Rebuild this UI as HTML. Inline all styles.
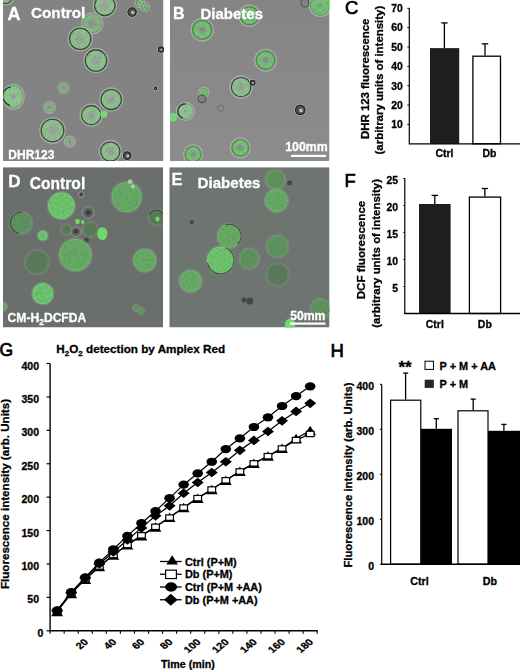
<!DOCTYPE html><html><head><meta charset="utf-8"><style>html,body{margin:0;padding:0;background:#fff;}body{width:520px;height:670px;position:relative;overflow:hidden;}</style></head><body><svg width="520" height="670" viewBox="0 0 520 670" style="position:absolute;left:0;top:0;filter:blur(0.35px)">
<defs>
<radialGradient id="gA"><stop offset="0" stop-color="#9c9ea0"/><stop offset="0.3" stop-color="#98aa98"/><stop offset="0.6" stop-color="#92c092"/><stop offset="0.88" stop-color="#8ac28a"/><stop offset="1" stop-color="#74a874"/></radialGradient>
<radialGradient id="gG"><stop offset="0" stop-color="#8a8096"/><stop offset="0.22" stop-color="#8a968c"/><stop offset="0.42" stop-color="#78ba78"/><stop offset="0.75" stop-color="#7cc27c"/><stop offset="0.9" stop-color="#4c944c"/><stop offset="1" stop-color="#5a8e5a"/></radialGradient>
<radialGradient id="gGG"><stop offset="0" stop-color="#7a9a7c"/><stop offset="0.4" stop-color="#7cc07c"/><stop offset="0.85" stop-color="#6cc06c"/><stop offset="1" stop-color="#5aa05a"/></radialGradient>
<radialGradient id="gP"><stop offset="0" stop-color="#8e8e92"/><stop offset="0.3" stop-color="#909a90"/><stop offset="0.55" stop-color="#88b088"/><stop offset="0.85" stop-color="#86b686"/><stop offset="1" stop-color="#6a9a6a"/></radialGradient>
<radialGradient id="gAb"><stop offset="0" stop-color="#8c948c"/><stop offset="0.3" stop-color="#98c098"/><stop offset="0.8" stop-color="#8cc88c"/><stop offset="1" stop-color="#6aaa6a"/></radialGradient>
<radialGradient id="gD1"><stop offset="0" stop-color="#6cbc6c"/><stop offset="0.85" stop-color="#6cbb6c"/><stop offset="1" stop-color="#7cc07c"/></radialGradient>
<radialGradient id="gD2"><stop offset="0" stop-color="#66a466"/><stop offset="0.85" stop-color="#69a669"/><stop offset="1" stop-color="#78ae78"/></radialGradient>
<radialGradient id="gD3"><stop offset="0" stop-color="#5c765c"/><stop offset="0.85" stop-color="#628262"/><stop offset="1" stop-color="#7c967c"/></radialGradient>
<filter id="tex" x="0" y="0" width="1" height="1" primitiveUnits="userSpaceOnUse"><feTurbulence type="fractalNoise" baseFrequency="0.42" numOctaves="2" seed="7" result="n"/><feColorMatrix in="n" type="matrix" values="0 0 0 0 0  0 0 0 0 0  0 0 0 0 0  0 0 0 -2.4 1.35" result="m"/><feComposite in="SourceGraphic" in2="m" operator="in"/></filter>
<linearGradient id="bgB" x1="0" y1="0" x2="0" y2="1"><stop offset="0" stop-color="#858585"/><stop offset="1" stop-color="#8c8c8c"/></linearGradient>
<filter id="bl" x="-5%" y="-5%" width="110%" height="110%"><feGaussianBlur stdDeviation="0.45"/></filter>
<clipPath id="cA"><rect x="3" y="0" width="160.5" height="161"/></clipPath>
<clipPath id="cB"><rect x="170" y="0" width="159.5" height="161"/></clipPath>
<clipPath id="cD"><rect x="3" y="167.2" width="160" height="160.3"/></clipPath>
<clipPath id="cE"><rect x="169.3" y="167.2" width="160.2" height="160.3"/></clipPath>
</defs>
<rect width="520" height="670" fill="#fff"/>
<g clip-path="url(#cA)">
<rect x="3" y="0" width="160.5" height="161" fill="#838383"/>
<g filter="url(#bl)">
<circle cx="104.80" cy="5.50" r="11.50" fill="none" stroke="#b6b8b6" stroke-width="1.3" opacity="0.7"/><circle cx="104.80" cy="5.50" r="10.60" fill="url(#gA)"/><circle cx="104.80" cy="5.50" r="9.40" fill="#4a7a4a" filter="url(#tex)" opacity="0.3"/><circle cx="104.80" cy="5.50" r="10.10" fill="none" stroke="#344034" stroke-width="1.05"/>
<circle cx="92.30" cy="23.30" r="10.50" fill="none" stroke="#b6b8b6" stroke-width="1.3" opacity="0.7"/><circle cx="92.30" cy="23.30" r="9.60" fill="url(#gP)"/><circle cx="92.30" cy="23.30" r="8.40" fill="#4a7a4a" filter="url(#tex)" opacity="0.3"/>
<circle cx="80.20" cy="38.80" r="12.00" fill="none" stroke="#b6b8b6" stroke-width="1.3" opacity="0.7"/><circle cx="80.20" cy="38.80" r="11.10" fill="url(#gA)"/><circle cx="80.20" cy="38.80" r="9.90" fill="#4a7a4a" filter="url(#tex)" opacity="0.3"/><circle cx="80.20" cy="38.80" r="10.60" fill="none" stroke="#344034" stroke-width="1.05"/>
<circle cx="96.00" cy="60.60" r="12.10" fill="none" stroke="#b6b8b6" stroke-width="1.3" opacity="0.7"/><circle cx="96.00" cy="60.60" r="11.20" fill="url(#gA)"/><circle cx="96.00" cy="60.60" r="10.00" fill="#4a7a4a" filter="url(#tex)" opacity="0.3"/><circle cx="96.00" cy="60.60" r="10.70" fill="none" stroke="#344034" stroke-width="1.05"/>
<circle cx="132.10" cy="12.10" r="5.00" fill="none" stroke="#c8c8c8" stroke-width="1" opacity="0.8"/><circle cx="132.10" cy="12.10" r="4.20" fill="#4a524a" stroke="#262626" stroke-width="1.2"/><circle cx="132.73" cy="12.52" r="1.68" fill="#a8c8a8"/>
<circle cx="139.80" cy="3.00" r="4.70" fill="none" stroke="#b6b8b6" stroke-width="1.3" opacity="0.7"/><circle cx="139.80" cy="3.00" r="3.80" fill="url(#gG)"/><circle cx="139.80" cy="3.00" r="2.60" fill="#4a7a4a" filter="url(#tex)" opacity="0.3"/>
<circle cx="144.80" cy="6.50" r="4.70" fill="none" stroke="#b6b8b6" stroke-width="1.3" opacity="0.7"/><circle cx="144.80" cy="6.50" r="3.80" fill="url(#gG)"/><circle cx="144.80" cy="6.50" r="2.60" fill="#4a7a4a" filter="url(#tex)" opacity="0.3"/>
<circle cx="161.00" cy="49.50" r="3.40" fill="none" stroke="#c8c8c8" stroke-width="1" opacity="0.8"/><circle cx="161.00" cy="49.50" r="2.60" fill="#4a524a" stroke="#262626" stroke-width="1.2"/><circle cx="161.39" cy="49.76" r="1.04" fill="#a8c8a8"/>
<ellipse cx="13.20" cy="96.70" rx="10.90" ry="12.40" fill="none" stroke="#b6b8b6" stroke-width="1.3" opacity="0.7"/><ellipse cx="13.20" cy="96.70" rx="10.00" ry="11.50" fill="url(#gAb)"/><ellipse cx="13.20" cy="96.70" rx="8.80" ry="10.30" fill="#4a7a4a" filter="url(#tex)" opacity="0.3"/><ellipse cx="13.20" cy="96.70" rx="9.40" ry="10.90" fill="none" stroke="#263a26" stroke-width="1.3" stroke-dasharray="26.0 40.0" transform="rotate(110 13.2 96.7)"/>
<circle cx="63.60" cy="88.10" r="5.20" fill="none" stroke="#b6b8b6" stroke-width="1.3" opacity="0.7"/><circle cx="63.60" cy="88.10" r="4.30" fill="url(#gP)"/><circle cx="63.60" cy="88.10" r="3.10" fill="#4a7a4a" filter="url(#tex)" opacity="0.3"/>
<circle cx="49.50" cy="107.30" r="5.70" fill="none" stroke="#b6b8b6" stroke-width="1.3" opacity="0.7"/><circle cx="49.50" cy="107.30" r="4.80" fill="url(#gP)"/><circle cx="49.50" cy="107.30" r="3.60" fill="#4a7a4a" filter="url(#tex)" opacity="0.3"/>
<circle cx="111.20" cy="99.50" r="11.50" fill="none" stroke="#b6b8b6" stroke-width="1.3" opacity="0.7"/><circle cx="111.20" cy="99.50" r="10.60" fill="url(#gA)"/><circle cx="111.20" cy="99.50" r="9.40" fill="#4a7a4a" filter="url(#tex)" opacity="0.3"/><circle cx="111.20" cy="99.50" r="10.10" fill="none" stroke="#344034" stroke-width="1.05"/>
<circle cx="91.20" cy="115.20" r="11.00" fill="none" stroke="#b6b8b6" stroke-width="1.3" opacity="0.7"/><circle cx="91.20" cy="115.20" r="10.10" fill="url(#gA)"/><circle cx="91.20" cy="115.20" r="8.90" fill="#4a7a4a" filter="url(#tex)" opacity="0.3"/><circle cx="91.20" cy="115.20" r="9.60" fill="none" stroke="#344034" stroke-width="1.05"/>
<circle cx="103.80" cy="114.20" r="3.60" fill="#7ed07a"/>
<circle cx="52.50" cy="130.50" r="12.70" fill="none" stroke="#b6b8b6" stroke-width="1.3" opacity="0.7"/><circle cx="52.50" cy="130.50" r="11.80" fill="url(#gA)"/><circle cx="52.50" cy="130.50" r="10.60" fill="#4a7a4a" filter="url(#tex)" opacity="0.3"/><circle cx="52.50" cy="130.50" r="11.30" fill="none" stroke="#344034" stroke-width="1.05"/>
<circle cx="69.70" cy="141.60" r="5.50" fill="none" stroke="#b6b8b6" stroke-width="1.3" opacity="0.7"/><circle cx="69.70" cy="141.60" r="4.60" fill="url(#gP)"/><circle cx="69.70" cy="141.60" r="3.40" fill="#4a7a4a" filter="url(#tex)" opacity="0.3"/>
<circle cx="110.30" cy="151.50" r="11.00" fill="none" stroke="#b6b8b6" stroke-width="1.3" opacity="0.7"/><circle cx="110.30" cy="151.50" r="10.10" fill="url(#gA)"/><circle cx="110.30" cy="151.50" r="8.90" fill="#4a7a4a" filter="url(#tex)" opacity="0.3"/><circle cx="110.30" cy="151.50" r="9.60" fill="none" stroke="#344034" stroke-width="1.05"/>
<circle cx="127.20" cy="155.60" r="4.60" fill="none" stroke="#c8c8c8" stroke-width="1" opacity="0.8"/><circle cx="127.20" cy="155.60" r="3.80" fill="#4a524a" stroke="#262626" stroke-width="1.2"/><circle cx="127.77" cy="155.98" r="1.52" fill="#a8c8a8"/>
<circle cx="6.00" cy="-2.50" r="7.40" fill="none" stroke="#b6b8b6" stroke-width="1.3" opacity="0.7"/><circle cx="6.00" cy="-2.50" r="6.50" fill="url(#gA)"/><circle cx="6.00" cy="-2.50" r="5.30" fill="#4a7a4a" filter="url(#tex)" opacity="0.3"/><circle cx="6.00" cy="-2.50" r="6.00" fill="none" stroke="#344034" stroke-width="1.05"/>
<circle cx="155.60" cy="88.40" r="2.00" fill="none" stroke="#c8c8c8" stroke-width="1" opacity="0.8"/><circle cx="155.60" cy="88.40" r="1.20" fill="#4a524a" stroke="#262626" stroke-width="1.2"/><circle cx="155.78" cy="88.52" r="0.48" fill="#a8c8a8"/>
</g></g>
<g clip-path="url(#cB)">
<rect x="170" y="0" width="159.5" height="161" fill="url(#bgB)"/>
<g filter="url(#bl)">
<circle cx="202.20" cy="29.80" r="11.20" fill="none" stroke="#b6b8b6" stroke-width="1.3" opacity="0.7"/><circle cx="202.20" cy="29.80" r="10.30" fill="url(#gG)"/><circle cx="202.20" cy="29.80" r="9.10" fill="#4a7a4a" filter="url(#tex)" opacity="0.3"/>
<circle cx="249.50" cy="15.80" r="10.70" fill="none" stroke="#b6b8b6" stroke-width="1.3" opacity="0.7"/><circle cx="249.50" cy="15.80" r="9.80" fill="url(#gG)"/><circle cx="249.50" cy="15.80" r="8.60" fill="#4a7a4a" filter="url(#tex)" opacity="0.3"/>
<circle cx="265.60" cy="60.30" r="10.90" fill="none" stroke="#b6b8b6" stroke-width="1.3" opacity="0.7"/><circle cx="265.60" cy="60.30" r="10.00" fill="url(#gG)"/><circle cx="265.60" cy="60.30" r="8.80" fill="#4a7a4a" filter="url(#tex)" opacity="0.3"/>
<circle cx="320.30" cy="5.50" r="10.90" fill="none" stroke="#b6b8b6" stroke-width="1.3" opacity="0.7"/><circle cx="320.30" cy="5.50" r="10.00" fill="url(#gGG)"/><circle cx="320.30" cy="5.50" r="8.80" fill="#4a7a4a" filter="url(#tex)" opacity="0.3"/>
<circle cx="304.80" cy="3.00" r="4.00" fill="#808086" stroke="#505056" stroke-width="1.1"/>
<circle cx="241.10" cy="87.10" r="11.10" fill="none" stroke="#b6b8b6" stroke-width="1.3" opacity="0.7"/><circle cx="241.10" cy="87.10" r="10.20" fill="url(#gA)"/><circle cx="241.10" cy="87.10" r="9.00" fill="#4a7a4a" filter="url(#tex)" opacity="0.3"/><circle cx="241.10" cy="87.10" r="9.70" fill="none" stroke="#344034" stroke-width="1.05"/>
<circle cx="252.60" cy="82.70" r="3.20" fill="none" stroke="#c8c8c8" stroke-width="1" opacity="0.8"/><circle cx="252.60" cy="82.70" r="2.40" fill="#4a524a" stroke="#262626" stroke-width="1.2"/><circle cx="252.96" cy="82.94" r="0.96" fill="#a8c8a8"/>
<circle cx="203.80" cy="92.30" r="5.20" fill="none" stroke="#b6b8b6" stroke-width="1.3" opacity="0.7"/><circle cx="203.80" cy="92.30" r="4.30" fill="url(#gGG)"/><circle cx="203.80" cy="92.30" r="3.10" fill="#4a7a4a" filter="url(#tex)" opacity="0.3"/>
<circle cx="202.00" cy="98.80" r="3.80" fill="#808086" stroke="#505056" stroke-width="1.1"/>
<circle cx="220.90" cy="108.30" r="3.20" fill="#8a8a8a" stroke="#6a6a6a" stroke-width="1"/>
<circle cx="185.30" cy="111.40" r="8.90" fill="none" stroke="#b6b8b6" stroke-width="1.3" opacity="0.7"/><circle cx="185.30" cy="111.40" r="8.00" fill="url(#gAb)"/><circle cx="185.30" cy="111.40" r="6.80" fill="#4a7a4a" filter="url(#tex)" opacity="0.3"/><circle cx="185.30" cy="111.40" r="7.40" fill="none" stroke="#263a26" stroke-width="1.3" stroke-dasharray="20.8 32.0" transform="rotate(110 185.3 111.4)"/>
<circle cx="172.80" cy="117.30" r="4.50" fill="#7ed07a"/>
<circle cx="300.30" cy="109.90" r="5.60" fill="none" stroke="#c8c8c8" stroke-width="1" opacity="0.8"/><circle cx="300.30" cy="109.90" r="4.80" fill="#4a524a" stroke="#262626" stroke-width="1.2"/><circle cx="301.02" cy="110.38" r="1.92" fill="#a8c8a8"/>
<circle cx="240.30" cy="147.80" r="9.90" fill="none" stroke="#b6b8b6" stroke-width="1.3" opacity="0.7"/><circle cx="240.30" cy="147.80" r="9.00" fill="url(#gG)"/><circle cx="240.30" cy="147.80" r="7.80" fill="#4a7a4a" filter="url(#tex)" opacity="0.3"/>
<circle cx="193.00" cy="154.20" r="9.40" fill="none" stroke="#b6b8b6" stroke-width="1.3" opacity="0.7"/><circle cx="193.00" cy="154.20" r="8.50" fill="url(#gG)"/><circle cx="193.00" cy="154.20" r="7.30" fill="#4a7a4a" filter="url(#tex)" opacity="0.3"/>
</g></g>
<g clip-path="url(#cD)">
<rect x="3" y="167.2" width="160" height="160.3" fill="#6a6f6b"/>
<g filter="url(#bl)">
<circle cx="61.40" cy="205.70" r="14.00" fill="none" stroke="#8a9a8e" stroke-width="1.1" opacity="0.5"/><circle cx="61.40" cy="205.70" r="13.40" fill="#6ec46e"/><circle cx="61.40" cy="205.70" r="12.60" fill="none" stroke="#ffffff" stroke-width="1" opacity="0.08"/><circle cx="61.40" cy="205.70" r="12.40" fill="#2c5a2c" filter="url(#tex)" opacity="0.2"/>
<circle cx="126.60" cy="197.00" r="15.70" fill="none" stroke="#8a9a8e" stroke-width="1.1" opacity="0.5"/><circle cx="126.60" cy="197.00" r="15.10" fill="#66aa66"/><circle cx="126.60" cy="197.00" r="14.30" fill="none" stroke="#ffffff" stroke-width="1" opacity="0.08"/><circle cx="126.60" cy="197.00" r="14.10" fill="#2c5a2c" filter="url(#tex)" opacity="0.2"/>
<circle cx="21.10" cy="223.00" r="11.70" fill="none" stroke="#8a9a8e" stroke-width="1.1" opacity="0.5"/><circle cx="21.10" cy="223.00" r="11.10" fill="#609260"/><circle cx="21.10" cy="223.00" r="10.30" fill="none" stroke="#ffffff" stroke-width="1" opacity="0.08"/><circle cx="21.10" cy="223.00" r="10.10" fill="#2c5a2c" filter="url(#tex)" opacity="0.2"/><circle cx="21.10" cy="223.00" r="10.70" fill="none" stroke="#2f3a2f" stroke-width="1.1" stroke-dasharray="32.9 36.9" transform="rotate(100 21.1 223)" opacity="0.8"/>
<circle cx="42.80" cy="235.60" r="5.60" fill="none" stroke="#8a9a8e" stroke-width="1.1" opacity="0.5"/><circle cx="42.80" cy="235.60" r="5.00" fill="#6ec46e"/><circle cx="42.80" cy="235.60" r="4.20" fill="none" stroke="#ffffff" stroke-width="1" opacity="0.08"/><circle cx="42.80" cy="235.60" r="4.00" fill="#2c5a2c" filter="url(#tex)" opacity="0.2"/>
<circle cx="90.20" cy="229.40" r="8.20" fill="none" stroke="#8a9a8e" stroke-width="1.1" opacity="0.5"/><circle cx="90.20" cy="229.40" r="7.60" fill="#5a7a5a"/><circle cx="90.20" cy="229.40" r="6.80" fill="none" stroke="#ffffff" stroke-width="1" opacity="0.08"/><circle cx="90.20" cy="229.40" r="6.60" fill="#2c5a2c" filter="url(#tex)" opacity="0.2"/>
<circle cx="88.20" cy="212.60" r="6.00" fill="#5e665e" stroke="#8e968e" stroke-width="1"/><circle cx="88.20" cy="212.60" r="2.70" fill="#383c38"/>
<ellipse cx="102.30" cy="233.60" rx="5.12" ry="6.40" fill="#70d86a"/>
<circle cx="81.20" cy="194.50" r="3.00" fill="#5e665e" stroke="#8e968e" stroke-width="1"/><circle cx="81.20" cy="194.50" r="1.35" fill="#383c38"/>
<circle cx="86.50" cy="240.00" r="2.60" fill="#3a3f3a" opacity="0.85"/>
<circle cx="75.90" cy="231.60" r="5.00" fill="#5e665e" stroke="#8e968e" stroke-width="1"/><circle cx="75.90" cy="231.60" r="2.25" fill="#383c38"/>
<circle cx="66.30" cy="229.40" r="5.60" fill="none" stroke="#8a9a8e" stroke-width="1.1" opacity="0.5"/><circle cx="66.30" cy="229.40" r="5.00" fill="#5a7a5a"/><circle cx="66.30" cy="229.40" r="4.20" fill="none" stroke="#ffffff" stroke-width="1" opacity="0.08"/><circle cx="66.30" cy="229.40" r="4.00" fill="#2c5a2c" filter="url(#tex)" opacity="0.2"/>
<ellipse cx="77.50" cy="221.50" rx="2.24" ry="2.80" fill="#70d86a"/>
<ellipse cx="82.70" cy="222.00" rx="1.60" ry="2.00" fill="#70d86a"/>
<circle cx="156.60" cy="217.60" r="8.60" fill="none" stroke="#8a9a8e" stroke-width="1.1" opacity="0.5"/><circle cx="156.60" cy="217.60" r="8.00" fill="#5a7a5a"/><circle cx="156.60" cy="217.60" r="7.20" fill="none" stroke="#ffffff" stroke-width="1" opacity="0.08"/><circle cx="156.60" cy="217.60" r="7.00" fill="#2c5a2c" filter="url(#tex)" opacity="0.2"/><circle cx="156.60" cy="217.60" r="7.60" fill="none" stroke="#2f3a2f" stroke-width="1.1" stroke-dasharray="26.5 23.8" transform="rotate(200 156.6 217.6)" opacity="0.8"/>
<ellipse cx="157.50" cy="219.00" rx="2.00" ry="2.50" fill="#70d86a"/>
<circle cx="130.20" cy="181.60" r="2.40" fill="#b8d8b8" opacity="0.8"/>
<circle cx="133.00" cy="186.50" r="2.00" fill="#b8d8b8" opacity="0.8"/>
<circle cx="75.40" cy="255.00" r="16.90" fill="none" stroke="#8a9a8e" stroke-width="1.1" opacity="0.5"/><circle cx="75.40" cy="255.00" r="16.30" fill="#66aa66"/><circle cx="75.40" cy="255.00" r="15.50" fill="none" stroke="#ffffff" stroke-width="1" opacity="0.08"/><circle cx="75.40" cy="255.00" r="15.30" fill="#2c5a2c" filter="url(#tex)" opacity="0.2"/>
<circle cx="36.90" cy="262.00" r="12.40" fill="none" stroke="#8a9a8e" stroke-width="1.1" opacity="0.5"/><circle cx="36.90" cy="262.00" r="11.80" fill="#5a7a5a"/><circle cx="36.90" cy="262.00" r="11.00" fill="none" stroke="#ffffff" stroke-width="1" opacity="0.08"/><circle cx="36.90" cy="262.00" r="10.80" fill="#2c5a2c" filter="url(#tex)" opacity="0.2"/>
<circle cx="144.80" cy="260.30" r="12.20" fill="none" stroke="#8a9a8e" stroke-width="1.1" opacity="0.5"/><circle cx="144.80" cy="260.30" r="11.60" fill="#66aa66"/><circle cx="144.80" cy="260.30" r="10.80" fill="none" stroke="#ffffff" stroke-width="1" opacity="0.08"/><circle cx="144.80" cy="260.30" r="10.60" fill="#2c5a2c" filter="url(#tex)" opacity="0.2"/>
<circle cx="42.80" cy="293.70" r="11.20" fill="none" stroke="#8a9a8e" stroke-width="1.1" opacity="0.5"/><circle cx="42.80" cy="293.70" r="10.60" fill="#6ec46e"/><circle cx="42.80" cy="293.70" r="9.80" fill="none" stroke="#ffffff" stroke-width="1" opacity="0.08"/><circle cx="42.80" cy="293.70" r="9.60" fill="#2c5a2c" filter="url(#tex)" opacity="0.2"/>
<circle cx="136.00" cy="308.00" r="3.60" fill="none" stroke="#8a9a8e" stroke-width="1.1" opacity="0.5"/><circle cx="136.00" cy="308.00" r="3.00" fill="#609260"/><circle cx="136.00" cy="308.00" r="2.20" fill="none" stroke="#ffffff" stroke-width="1" opacity="0.08"/><circle cx="136.00" cy="308.00" r="2.00" fill="#2c5a2c" filter="url(#tex)" opacity="0.2"/>
<circle cx="141.00" cy="311.00" r="3.60" fill="none" stroke="#8a9a8e" stroke-width="1.1" opacity="0.5"/><circle cx="141.00" cy="311.00" r="3.00" fill="#609260"/><circle cx="141.00" cy="311.00" r="2.20" fill="none" stroke="#ffffff" stroke-width="1" opacity="0.08"/><circle cx="141.00" cy="311.00" r="2.00" fill="#2c5a2c" filter="url(#tex)" opacity="0.2"/>
<circle cx="3.00" cy="306.40" r="4.60" fill="none" stroke="#8a9a8e" stroke-width="1.1" opacity="0.5"/><circle cx="3.00" cy="306.40" r="4.00" fill="#66aa66"/><circle cx="3.00" cy="306.40" r="3.20" fill="none" stroke="#ffffff" stroke-width="1" opacity="0.08"/><circle cx="3.00" cy="306.40" r="3.00" fill="#2c5a2c" filter="url(#tex)" opacity="0.2"/>
</g></g>
<g clip-path="url(#cE)">
<rect x="169.3" y="167.2" width="160.2" height="160.3" fill="#6e7470"/>
<g filter="url(#bl)">
<circle cx="275.30" cy="179.60" r="10.60" fill="none" stroke="#8a9a8e" stroke-width="1.1" opacity="0.5"/><circle cx="275.30" cy="179.60" r="10.00" fill="#609260"/><circle cx="275.30" cy="179.60" r="9.20" fill="none" stroke="#ffffff" stroke-width="1" opacity="0.08"/><circle cx="275.30" cy="179.60" r="9.00" fill="#2c5a2c" filter="url(#tex)" opacity="0.2"/>
<circle cx="276.50" cy="200.60" r="12.10" fill="none" stroke="#8a9a8e" stroke-width="1.1" opacity="0.5"/><circle cx="276.50" cy="200.60" r="11.50" fill="#66aa66"/><circle cx="276.50" cy="200.60" r="10.70" fill="none" stroke="#ffffff" stroke-width="1" opacity="0.08"/><circle cx="276.50" cy="200.60" r="10.50" fill="#2c5a2c" filter="url(#tex)" opacity="0.2"/>
<circle cx="229.40" cy="236.00" r="12.70" fill="none" stroke="#8a9a8e" stroke-width="1.1" opacity="0.5"/><circle cx="229.40" cy="236.00" r="12.10" fill="#66aa66"/><circle cx="229.40" cy="236.00" r="11.30" fill="none" stroke="#ffffff" stroke-width="1" opacity="0.08"/><circle cx="229.40" cy="236.00" r="11.10" fill="#2c5a2c" filter="url(#tex)" opacity="0.2"/><circle cx="229.40" cy="236.00" r="11.70" fill="none" stroke="#2f3a2f" stroke-width="1.1" stroke-dasharray="31.7 44.4" transform="rotate(-110 229.4 236.0)" opacity="0.8"/>
<circle cx="220.60" cy="260.30" r="14.40" fill="none" stroke="#8a9a8e" stroke-width="1.1" opacity="0.5"/><circle cx="220.60" cy="260.30" r="13.80" fill="#6ec46e"/><circle cx="220.60" cy="260.30" r="13.00" fill="none" stroke="#ffffff" stroke-width="1" opacity="0.08"/><circle cx="220.60" cy="260.30" r="12.80" fill="#2c5a2c" filter="url(#tex)" opacity="0.2"/><circle cx="220.60" cy="260.30" r="13.40" fill="none" stroke="#2f3a2f" stroke-width="1.1" stroke-dasharray="55.4 31.4" transform="rotate(-70 220.6 260.3)" opacity="0.8"/>
<circle cx="249.30" cy="258.50" r="10.60" fill="none" stroke="#8a9a8e" stroke-width="1.1" opacity="0.5"/><circle cx="249.30" cy="258.50" r="10.00" fill="#609260"/><circle cx="249.30" cy="258.50" r="9.20" fill="none" stroke="#ffffff" stroke-width="1" opacity="0.08"/><circle cx="249.30" cy="258.50" r="9.00" fill="#2c5a2c" filter="url(#tex)" opacity="0.2"/>
<circle cx="277.40" cy="246.50" r="11.60" fill="none" stroke="#8a9a8e" stroke-width="1.1" opacity="0.5"/><circle cx="277.40" cy="246.50" r="11.00" fill="#609260"/><circle cx="277.40" cy="246.50" r="10.20" fill="none" stroke="#ffffff" stroke-width="1" opacity="0.08"/><circle cx="277.40" cy="246.50" r="10.00" fill="#2c5a2c" filter="url(#tex)" opacity="0.2"/>
<circle cx="277.50" cy="274.60" r="11.60" fill="none" stroke="#8a9a8e" stroke-width="1.1" opacity="0.5"/><circle cx="277.50" cy="274.60" r="11.00" fill="#5a7a5a"/><circle cx="277.50" cy="274.60" r="10.20" fill="none" stroke="#ffffff" stroke-width="1" opacity="0.08"/><circle cx="277.50" cy="274.60" r="10.00" fill="#2c5a2c" filter="url(#tex)" opacity="0.2"/>
<circle cx="190.50" cy="281.10" r="11.80" fill="none" stroke="#8a9a8e" stroke-width="1.1" opacity="0.5"/><circle cx="190.50" cy="281.10" r="11.20" fill="#66aa66"/><circle cx="190.50" cy="281.10" r="10.40" fill="none" stroke="#ffffff" stroke-width="1" opacity="0.08"/><circle cx="190.50" cy="281.10" r="10.20" fill="#2c5a2c" filter="url(#tex)" opacity="0.2"/>
<circle cx="320.50" cy="309.00" r="10.60" fill="none" stroke="#8a9a8e" stroke-width="1.1" opacity="0.5"/><circle cx="320.50" cy="309.00" r="10.00" fill="#609260"/><circle cx="320.50" cy="309.00" r="9.20" fill="none" stroke="#ffffff" stroke-width="1" opacity="0.08"/><circle cx="320.50" cy="309.00" r="9.00" fill="#2c5a2c" filter="url(#tex)" opacity="0.2"/>
<ellipse cx="290.00" cy="325.00" rx="5.20" ry="6.50" fill="#70d86a"/>
<circle cx="191.70" cy="222.30" r="2.00" fill="#3a3f3a" opacity="0.85"/>
<circle cx="289.70" cy="182.90" r="2.50" fill="#3a3f3a" opacity="0.85"/>
<circle cx="249.90" cy="301.00" r="3.50" fill="#3a3f3a" opacity="0.85"/>
<circle cx="244.00" cy="300.00" r="2.50" fill="#3a3f3a" opacity="0.85"/>
</g></g>
<text x="7.6" y="19.5" font-size="18" font-weight="bold" fill="#fff" text-anchor="start" font-family="Liberation Sans, sans-serif"  stroke="#fff" stroke-width="0.3">A</text>
<text x="31" y="18.3" font-size="15.25" font-weight="bold" fill="#fff" text-anchor="start" font-family="Liberation Sans, sans-serif"  stroke="#fff" stroke-width="0.3">Control</text>
<text x="173" y="19.2" font-size="16" font-weight="bold" fill="#fff" text-anchor="start" font-family="Liberation Sans, sans-serif"  stroke="#fff" stroke-width="0.3">B</text>
<text x="200.5" y="19.2" font-size="15" font-weight="bold" fill="#fff" text-anchor="start" font-family="Liberation Sans, sans-serif"  stroke="#fff" stroke-width="0.3">Diabetes</text>
<text x="8.3" y="158.8" font-size="12" font-weight="bold" fill="#fff" text-anchor="start" font-family="Liberation Sans, sans-serif"  stroke="#fff" stroke-width="0.3">DHR123</text>
<text x="327.6" y="151" font-size="12.3" font-weight="bold" fill="#fff" text-anchor="end" font-family="Liberation Sans, sans-serif"  stroke="#fff" stroke-width="0.3">100mm</text>
<rect x="291" y="154.8" width="35" height="2.2" fill="#fff"/>
<text x="8.3" y="187" font-size="17" font-weight="bold" fill="#fff" text-anchor="start" font-family="Liberation Sans, sans-serif"  stroke="#fff" stroke-width="0.3">D</text>
<text x="29.8" y="189.3" font-size="15.6" font-weight="bold" fill="#fff" text-anchor="start" font-family="Liberation Sans, sans-serif"  stroke="#fff" stroke-width="0.3">Control</text>
<text x="171.4" y="185.2" font-size="16.5" font-weight="bold" fill="#fff" text-anchor="start" font-family="Liberation Sans, sans-serif"  stroke="#fff" stroke-width="0.3">E</text>
<text x="197.6" y="187.7" font-size="15.1" font-weight="bold" fill="#fff" text-anchor="start" font-family="Liberation Sans, sans-serif"  stroke="#fff" stroke-width="0.3">Diabetes</text>
<text x="7.6" y="322.4" font-size="12.1" font-weight="bold" fill="#fff" text-anchor="start" font-family="Liberation Sans, sans-serif"  stroke="#fff" stroke-width="0.3">CM-H<tspan font-size="8.5" dy="3">2</tspan><tspan dy="-3">DCFDA</tspan></text>
<text x="325.4" y="320.3" font-size="12.2" font-weight="bold" fill="#fff" text-anchor="end" font-family="Liberation Sans, sans-serif"  stroke="#fff" stroke-width="0.3">50mm</text>
<rect x="290" y="322.5" width="35.5" height="2.2" fill="#fff"/>
<text x="345.1" y="14.2" font-size="18.5" font-weight="normal" fill="#000" text-anchor="start" font-family="Liberation Sans, sans-serif" stroke="#000" stroke-width="0.7">C</text>
<line x1="444.4" y1="22.9" x2="444.4" y2="48.1" stroke="#000" stroke-width="1.3"/><line x1="441.2" y1="22.9" x2="447.59999999999997" y2="22.9" stroke="#000" stroke-width="1.3"/>
<line x1="485" y1="43.8" x2="485" y2="55.6" stroke="#000" stroke-width="1.3"/><line x1="481.8" y1="43.8" x2="488.2" y2="43.8" stroke="#000" stroke-width="1.3"/>
<rect x="430" y="48.1" width="29.2" height="95.7" fill="#1e1e1e"/>
<rect x="472.9" y="56.2" width="27.6" height="87.6" fill="#fff" stroke="#000" stroke-width="1.3"/>
<line x1="409.3" y1="8.3" x2="409.3" y2="143.8" stroke="#000" stroke-width="1.2"/><line x1="408.7" y1="143.8" x2="520" y2="143.8" stroke="#000" stroke-width="1.3"/><line x1="407.3" y1="124.44285714285715" x2="409.3" y2="124.44285714285715" stroke="#000" stroke-width="1"/><line x1="407.3" y1="105.08571428571429" x2="409.3" y2="105.08571428571429" stroke="#000" stroke-width="1"/><line x1="407.3" y1="85.72857142857144" x2="409.3" y2="85.72857142857144" stroke="#000" stroke-width="1"/><line x1="407.3" y1="66.37142857142858" x2="409.3" y2="66.37142857142858" stroke="#000" stroke-width="1"/><line x1="407.3" y1="47.01428571428572" x2="409.3" y2="47.01428571428572" stroke="#000" stroke-width="1"/><line x1="407.3" y1="27.657142857142873" x2="409.3" y2="27.657142857142873" stroke="#000" stroke-width="1"/><line x1="407.3" y1="8.300000000000011" x2="409.3" y2="8.300000000000011" stroke="#000" stroke-width="1"/>
<text x="402.8" y="128.24285714285716" font-size="10.4" font-weight="bold" fill="#000" text-anchor="end" font-family="Liberation Sans, sans-serif"  stroke="#000" stroke-width="0.3">10</text>
<text x="402.8" y="108.88571428571429" font-size="10.4" font-weight="bold" fill="#000" text-anchor="end" font-family="Liberation Sans, sans-serif"  stroke="#000" stroke-width="0.3">20</text>
<text x="402.8" y="89.52857142857144" font-size="10.4" font-weight="bold" fill="#000" text-anchor="end" font-family="Liberation Sans, sans-serif"  stroke="#000" stroke-width="0.3">30</text>
<text x="402.8" y="70.17142857142858" font-size="10.4" font-weight="bold" fill="#000" text-anchor="end" font-family="Liberation Sans, sans-serif"  stroke="#000" stroke-width="0.3">40</text>
<text x="402.8" y="50.81428571428572" font-size="10.4" font-weight="bold" fill="#000" text-anchor="end" font-family="Liberation Sans, sans-serif"  stroke="#000" stroke-width="0.3">50</text>
<text x="402.8" y="31.457142857142873" font-size="10.4" font-weight="bold" fill="#000" text-anchor="end" font-family="Liberation Sans, sans-serif"  stroke="#000" stroke-width="0.3">60</text>
<text x="402.8" y="12.100000000000012" font-size="10.4" font-weight="bold" fill="#000" text-anchor="end" font-family="Liberation Sans, sans-serif"  stroke="#000" stroke-width="0.3">70</text>
<text x="444.5" y="157" font-size="10.5" font-weight="bold" fill="#000" text-anchor="middle" font-family="Liberation Sans, sans-serif"  stroke="#000" stroke-width="0.3">Ctrl</text>
<text x="489.4" y="157" font-size="10.5" font-weight="bold" fill="#000" text-anchor="middle" font-family="Liberation Sans, sans-serif"  stroke="#000" stroke-width="0.3">Db</text>
<text x="0" y="0" font-size="11.4" font-weight="bold" fill="#000" text-anchor="middle" font-family="Liberation Sans, sans-serif" transform="translate(369.4,78.8) rotate(-90)" stroke="#000" stroke-width="0.3">DHR 123 fluorescence</text>
<text x="0" y="0" font-size="11.45" font-weight="bold" fill="#000" text-anchor="middle" font-family="Liberation Sans, sans-serif" transform="translate(383.2,80.1) rotate(-90)" stroke="#000" stroke-width="0.3">(arbitrary units of intensity)</text>
<text x="344.5" y="186.8" font-size="18.5" font-weight="normal" fill="#000" text-anchor="start" font-family="Liberation Sans, sans-serif" stroke="#000" stroke-width="0.7">F</text>
<line x1="434.8" y1="195.4" x2="434.8" y2="204" stroke="#000" stroke-width="1.3"/><line x1="431.6" y1="195.4" x2="438.0" y2="195.4" stroke="#000" stroke-width="1.3"/>
<line x1="484.9" y1="188.5" x2="484.9" y2="196.5" stroke="#000" stroke-width="1.3"/><line x1="481.7" y1="188.5" x2="488.09999999999997" y2="188.5" stroke="#000" stroke-width="1.3"/>
<rect x="419" y="204" width="31.6" height="109.5" fill="#1e1e1e"/>
<rect x="469.4" y="197.1" width="31.2" height="116.4" fill="#fff" stroke="#000" stroke-width="1.3"/>
<line x1="404.8" y1="178.3" x2="404.8" y2="313.5" stroke="#000" stroke-width="1.2"/><line x1="404.2" y1="313.5" x2="520" y2="313.5" stroke="#000" stroke-width="1.3"/><line x1="403.3" y1="286.5" x2="404.8" y2="286.5" stroke="#000" stroke-width="1"/><line x1="403.3" y1="259.5" x2="404.8" y2="259.5" stroke="#000" stroke-width="1"/><line x1="403.3" y1="232.5" x2="404.8" y2="232.5" stroke="#000" stroke-width="1"/><line x1="403.3" y1="205.5" x2="404.8" y2="205.5" stroke="#000" stroke-width="1"/><line x1="403.3" y1="178.5" x2="404.8" y2="178.5" stroke="#000" stroke-width="1"/>
<text x="398" y="291.8" font-size="10.4" font-weight="bold" fill="#000" text-anchor="end" font-family="Liberation Sans, sans-serif"  stroke="#000" stroke-width="0.3">5</text>
<text x="398" y="264.8" font-size="10.4" font-weight="bold" fill="#000" text-anchor="end" font-family="Liberation Sans, sans-serif"  stroke="#000" stroke-width="0.3">10</text>
<text x="398" y="237.8" font-size="10.4" font-weight="bold" fill="#000" text-anchor="end" font-family="Liberation Sans, sans-serif"  stroke="#000" stroke-width="0.3">15</text>
<text x="398" y="210.8" font-size="10.4" font-weight="bold" fill="#000" text-anchor="end" font-family="Liberation Sans, sans-serif"  stroke="#000" stroke-width="0.3">20</text>
<text x="398" y="183.8" font-size="10.4" font-weight="bold" fill="#000" text-anchor="end" font-family="Liberation Sans, sans-serif"  stroke="#000" stroke-width="0.3">25</text>
<text x="434.8" y="327.5" font-size="10.5" font-weight="bold" fill="#000" text-anchor="middle" font-family="Liberation Sans, sans-serif"  stroke="#000" stroke-width="0.3">Ctrl</text>
<text x="484.8" y="327.5" font-size="10.5" font-weight="bold" fill="#000" text-anchor="middle" font-family="Liberation Sans, sans-serif"  stroke="#000" stroke-width="0.3">Db</text>
<text x="0" y="0" font-size="11.6" font-weight="bold" fill="#000" text-anchor="middle" font-family="Liberation Sans, sans-serif" transform="translate(365,250) rotate(-90)" stroke="#000" stroke-width="0.3">DCF fluorescence</text>
<text x="0" y="0" font-size="11.45" font-weight="bold" fill="#000" text-anchor="middle" font-family="Liberation Sans, sans-serif" transform="translate(379.6,253.4) rotate(-90)" stroke="#000" stroke-width="0.3">(arbitrary units of intensity)</text>
<text x="-0.6" y="356.3" font-size="17.5" font-weight="normal" fill="#000" text-anchor="start" font-family="Liberation Sans, sans-serif" stroke="#000" stroke-width="0.7">G</text>
<text x="56.3" y="352.9" font-size="11.7" font-weight="bold" fill="#000" text-anchor="start" font-family="Liberation Sans, sans-serif"  stroke="#000" stroke-width="0.3">H<tspan font-size="8" dy="3">2</tspan><tspan dy="-3">O</tspan><tspan font-size="8" dy="3">2</tspan><tspan dy="-3"> detection by Amplex Red</tspan></text>
<line x1="50.1" y1="363.5" x2="50.1" y2="630.8" stroke="#000" stroke-width="1.4"/>
<line x1="49.4" y1="630.8" x2="317.8" y2="630.8" stroke="#000" stroke-width="1.4"/>
<line x1="46.6" y1="630.80" x2="50.1" y2="630.80" stroke="#000" stroke-width="1.2"/>
<text x="43.4" y="636.8" font-size="10.5" font-weight="bold" fill="#000" text-anchor="end" font-family="Liberation Sans, sans-serif"  stroke="#000" stroke-width="0.3">0</text>
<line x1="46.6" y1="597.39" x2="50.1" y2="597.39" stroke="#000" stroke-width="1.2"/>
<text x="39" y="603.3874999999999" font-size="10.5" font-weight="bold" fill="#000" text-anchor="end" font-family="Liberation Sans, sans-serif"  stroke="#000" stroke-width="0.3">50</text>
<line x1="46.6" y1="563.97" x2="50.1" y2="563.97" stroke="#000" stroke-width="1.2"/>
<text x="39" y="569.9749999999999" font-size="10.5" font-weight="bold" fill="#000" text-anchor="end" font-family="Liberation Sans, sans-serif"  stroke="#000" stroke-width="0.3">100</text>
<line x1="46.6" y1="530.56" x2="50.1" y2="530.56" stroke="#000" stroke-width="1.2"/>
<text x="39" y="536.5625" font-size="10.5" font-weight="bold" fill="#000" text-anchor="end" font-family="Liberation Sans, sans-serif"  stroke="#000" stroke-width="0.3">150</text>
<line x1="46.6" y1="497.15" x2="50.1" y2="497.15" stroke="#000" stroke-width="1.2"/>
<text x="39" y="503.15" font-size="10.5" font-weight="bold" fill="#000" text-anchor="end" font-family="Liberation Sans, sans-serif"  stroke="#000" stroke-width="0.3">200</text>
<line x1="46.6" y1="463.74" x2="50.1" y2="463.74" stroke="#000" stroke-width="1.2"/>
<text x="39" y="469.73749999999995" font-size="10.5" font-weight="bold" fill="#000" text-anchor="end" font-family="Liberation Sans, sans-serif"  stroke="#000" stroke-width="0.3">250</text>
<line x1="46.6" y1="430.32" x2="50.1" y2="430.32" stroke="#000" stroke-width="1.2"/>
<text x="39" y="436.325" font-size="10.5" font-weight="bold" fill="#000" text-anchor="end" font-family="Liberation Sans, sans-serif"  stroke="#000" stroke-width="0.3">300</text>
<line x1="46.6" y1="396.91" x2="50.1" y2="396.91" stroke="#000" stroke-width="1.2"/>
<text x="39" y="402.9125" font-size="10.5" font-weight="bold" fill="#000" text-anchor="end" font-family="Liberation Sans, sans-serif"  stroke="#000" stroke-width="0.3">350</text>
<line x1="46.6" y1="363.50" x2="50.1" y2="363.50" stroke="#000" stroke-width="1.2"/>
<text x="39" y="369.5" font-size="10.5" font-weight="bold" fill="#000" text-anchor="end" font-family="Liberation Sans, sans-serif"  stroke="#000" stroke-width="0.3">400</text>
<line x1="50.10" y1="630.8" x2="50.10" y2="633.8" stroke="#000" stroke-width="1.1"/>
<line x1="64.16" y1="630.8" x2="64.16" y2="633.8" stroke="#000" stroke-width="1.1"/>
<line x1="78.22" y1="630.8" x2="78.22" y2="633.8" stroke="#000" stroke-width="1.1"/>
<line x1="92.27" y1="630.8" x2="92.27" y2="633.8" stroke="#000" stroke-width="1.1"/>
<line x1="106.33" y1="630.8" x2="106.33" y2="633.8" stroke="#000" stroke-width="1.1"/>
<line x1="120.39" y1="630.8" x2="120.39" y2="633.8" stroke="#000" stroke-width="1.1"/>
<line x1="134.45" y1="630.8" x2="134.45" y2="633.8" stroke="#000" stroke-width="1.1"/>
<line x1="148.51" y1="630.8" x2="148.51" y2="633.8" stroke="#000" stroke-width="1.1"/>
<line x1="162.56" y1="630.8" x2="162.56" y2="633.8" stroke="#000" stroke-width="1.1"/>
<line x1="176.62" y1="630.8" x2="176.62" y2="633.8" stroke="#000" stroke-width="1.1"/>
<line x1="190.68" y1="630.8" x2="190.68" y2="633.8" stroke="#000" stroke-width="1.1"/>
<line x1="204.74" y1="630.8" x2="204.74" y2="633.8" stroke="#000" stroke-width="1.1"/>
<line x1="218.79" y1="630.8" x2="218.79" y2="633.8" stroke="#000" stroke-width="1.1"/>
<line x1="232.85" y1="630.8" x2="232.85" y2="633.8" stroke="#000" stroke-width="1.1"/>
<line x1="246.91" y1="630.8" x2="246.91" y2="633.8" stroke="#000" stroke-width="1.1"/>
<line x1="260.97" y1="630.8" x2="260.97" y2="633.8" stroke="#000" stroke-width="1.1"/>
<line x1="275.03" y1="630.8" x2="275.03" y2="633.8" stroke="#000" stroke-width="1.1"/>
<line x1="289.08" y1="630.8" x2="289.08" y2="633.8" stroke="#000" stroke-width="1.1"/>
<line x1="303.14" y1="630.8" x2="303.14" y2="633.8" stroke="#000" stroke-width="1.1"/>
<line x1="317.20" y1="630.8" x2="317.20" y2="633.8" stroke="#000" stroke-width="1.1"/>
<text x="0" y="0" font-size="10.4" font-weight="bold" fill="#000" text-anchor="end" font-family="Liberation Sans, sans-serif" transform="translate(89.04,642.6) scale(1.08,0.88) rotate(-45)" stroke="#000" stroke-width="0.3">20</text>
<text x="0" y="0" font-size="10.4" font-weight="bold" fill="#000" text-anchor="end" font-family="Liberation Sans, sans-serif" transform="translate(117.16,642.6) scale(1.08,0.88) rotate(-45)" stroke="#000" stroke-width="0.3">40</text>
<text x="0" y="0" font-size="10.4" font-weight="bold" fill="#000" text-anchor="end" font-family="Liberation Sans, sans-serif" transform="translate(145.28,642.6) scale(1.08,0.88) rotate(-45)" stroke="#000" stroke-width="0.3">60</text>
<text x="0" y="0" font-size="10.4" font-weight="bold" fill="#000" text-anchor="end" font-family="Liberation Sans, sans-serif" transform="translate(173.39,642.6) scale(1.08,0.88) rotate(-45)" stroke="#000" stroke-width="0.3">80</text>
<text x="0" y="0" font-size="10.4" font-weight="bold" fill="#000" text-anchor="end" font-family="Liberation Sans, sans-serif" transform="translate(201.51,642.6) scale(1.08,0.88) rotate(-45)" stroke="#000" stroke-width="0.3">100</text>
<text x="0" y="0" font-size="10.4" font-weight="bold" fill="#000" text-anchor="end" font-family="Liberation Sans, sans-serif" transform="translate(229.62,642.6) scale(1.08,0.88) rotate(-45)" stroke="#000" stroke-width="0.3">120</text>
<text x="0" y="0" font-size="10.4" font-weight="bold" fill="#000" text-anchor="end" font-family="Liberation Sans, sans-serif" transform="translate(257.74,642.6) scale(1.08,0.88) rotate(-45)" stroke="#000" stroke-width="0.3">140</text>
<text x="0" y="0" font-size="10.4" font-weight="bold" fill="#000" text-anchor="end" font-family="Liberation Sans, sans-serif" transform="translate(285.86,642.6) scale(1.08,0.88) rotate(-45)" stroke="#000" stroke-width="0.3">160</text>
<text x="0" y="0" font-size="10.4" font-weight="bold" fill="#000" text-anchor="end" font-family="Liberation Sans, sans-serif" transform="translate(313.97,642.6) scale(1.08,0.88) rotate(-45)" stroke="#000" stroke-width="0.3">180</text>
<text x="161" y="668" font-size="10.7" font-weight="bold" fill="#000" text-anchor="start" font-family="Liberation Sans, sans-serif"  stroke="#000" stroke-width="0.3">Time (min)</text>
<text x="0" y="0" font-size="11.6" font-weight="bold" fill="#000" text-anchor="middle" font-family="Liberation Sans, sans-serif" transform="translate(9.2,494) rotate(-90)" stroke="#000" stroke-width="0.3">Fluorescence intensity (arb. Units)</text>
<polyline points="57.13,611.42 71.19,593.38 85.24,579.34 99.30,566.51 113.36,555.02 127.42,544.86 141.48,535.64 155.53,526.95 169.59,517.33 183.65,507.57 197.71,498.15 211.77,489.53 225.82,480.31 239.88,471.36 253.94,463.27 268.00,455.99 282.06,448.17 296.11,438.48 310.17,430.53" fill="none" stroke="#000" stroke-width="1.25"/>
<polygon points="57.13,606.67 63.03,616.17 51.23,616.17" fill="#000"/>
<polygon points="71.19,588.63 77.09,598.13 65.29,598.13" fill="#000"/>
<polygon points="85.24,574.59 91.14,584.09 79.34,584.09" fill="#000"/>
<polygon points="99.30,561.76 105.20,571.26 93.40,571.26" fill="#000"/>
<polygon points="113.36,550.27 119.26,559.77 107.46,559.77" fill="#000"/>
<polygon points="127.42,540.11 133.32,549.61 121.52,549.61" fill="#000"/>
<polygon points="141.48,530.89 147.38,540.39 135.58,540.39" fill="#000"/>
<polygon points="155.53,522.20 161.43,531.70 149.63,531.70" fill="#000"/>
<polygon points="169.59,512.58 175.49,522.08 163.69,522.08" fill="#000"/>
<polygon points="183.65,502.82 189.55,512.32 177.75,512.32" fill="#000"/>
<polygon points="197.71,493.40 203.61,502.90 191.81,502.90" fill="#000"/>
<polygon points="211.77,484.78 217.67,494.28 205.87,494.28" fill="#000"/>
<polygon points="225.82,475.56 231.72,485.06 219.92,485.06" fill="#000"/>
<polygon points="239.88,466.61 245.78,476.11 233.98,476.11" fill="#000"/>
<polygon points="253.94,458.52 259.84,468.02 248.04,468.02" fill="#000"/>
<polygon points="268.00,451.24 273.90,460.74 262.10,460.74" fill="#000"/>
<polygon points="282.06,443.42 287.96,452.92 276.16,452.92" fill="#000"/>
<polygon points="296.11,433.73 302.01,443.23 290.21,443.23" fill="#000"/>
<polygon points="310.17,425.78 316.07,435.28 304.27,435.28" fill="#000"/>
<polyline points="57.13,611.42 71.19,593.38 85.24,579.34 99.30,566.51 113.36,555.02 127.42,545.00 141.48,535.31 155.53,526.82 169.59,517.60 183.65,507.57 197.71,498.15 211.77,489.53 225.82,480.31 239.88,471.49 253.94,463.40 268.00,456.19 282.06,448.50 296.11,440.08 310.17,433.93" fill="none" stroke="#000" stroke-width="1.25"/>
<rect x="53.28" y="608.72" width="7.70" height="5.40" fill="#fff" stroke="#000" stroke-width="1.2"/>
<rect x="67.34" y="590.68" width="7.70" height="5.40" fill="#fff" stroke="#000" stroke-width="1.2"/>
<rect x="81.39" y="576.64" width="7.70" height="5.40" fill="#fff" stroke="#000" stroke-width="1.2"/>
<rect x="95.45" y="563.81" width="7.70" height="5.40" fill="#fff" stroke="#000" stroke-width="1.2"/>
<rect x="109.51" y="552.32" width="7.70" height="5.40" fill="#fff" stroke="#000" stroke-width="1.2"/>
<rect x="123.57" y="542.30" width="7.70" height="5.40" fill="#fff" stroke="#000" stroke-width="1.2"/>
<rect x="137.63" y="532.61" width="7.70" height="5.40" fill="#fff" stroke="#000" stroke-width="1.2"/>
<rect x="151.68" y="524.12" width="7.70" height="5.40" fill="#fff" stroke="#000" stroke-width="1.2"/>
<rect x="165.74" y="514.90" width="7.70" height="5.40" fill="#fff" stroke="#000" stroke-width="1.2"/>
<rect x="179.80" y="504.87" width="7.70" height="5.40" fill="#fff" stroke="#000" stroke-width="1.2"/>
<rect x="193.86" y="495.45" width="7.70" height="5.40" fill="#fff" stroke="#000" stroke-width="1.2"/>
<rect x="207.92" y="486.83" width="7.70" height="5.40" fill="#fff" stroke="#000" stroke-width="1.2"/>
<rect x="221.97" y="477.61" width="7.70" height="5.40" fill="#fff" stroke="#000" stroke-width="1.2"/>
<rect x="236.03" y="468.79" width="7.70" height="5.40" fill="#fff" stroke="#000" stroke-width="1.2"/>
<rect x="250.09" y="460.70" width="7.70" height="5.40" fill="#fff" stroke="#000" stroke-width="1.2"/>
<rect x="264.15" y="453.49" width="7.70" height="5.40" fill="#fff" stroke="#000" stroke-width="1.2"/>
<rect x="278.21" y="445.80" width="7.70" height="5.40" fill="#fff" stroke="#000" stroke-width="1.2"/>
<rect x="292.26" y="437.38" width="7.70" height="5.40" fill="#fff" stroke="#000" stroke-width="1.2"/>
<rect x="306.32" y="431.23" width="7.70" height="5.40" fill="#fff" stroke="#000" stroke-width="1.2"/>
<polyline points="57.13,610.28 71.19,592.04 85.24,577.34 99.30,562.64 113.36,549.27 127.42,535.91 141.48,523.21 155.53,511.05 169.59,498.15 183.65,484.65 197.71,473.36 211.77,461.73 225.82,449.04 239.88,438.34 253.94,426.98 268.00,417.29 282.06,406.00 296.11,396.04 310.17,386.29" fill="none" stroke="#000" stroke-width="1.25"/>
<ellipse cx="57.13" cy="610.28" rx="5.30" ry="4.10" fill="#000"/>
<ellipse cx="71.19" cy="592.04" rx="5.30" ry="4.10" fill="#000"/>
<ellipse cx="85.24" cy="577.34" rx="5.30" ry="4.10" fill="#000"/>
<ellipse cx="99.30" cy="562.64" rx="5.30" ry="4.10" fill="#000"/>
<ellipse cx="113.36" cy="549.27" rx="5.30" ry="4.10" fill="#000"/>
<ellipse cx="127.42" cy="535.91" rx="5.30" ry="4.10" fill="#000"/>
<ellipse cx="141.48" cy="523.21" rx="5.30" ry="4.10" fill="#000"/>
<ellipse cx="155.53" cy="511.05" rx="5.30" ry="4.10" fill="#000"/>
<ellipse cx="169.59" cy="498.15" rx="5.30" ry="4.10" fill="#000"/>
<ellipse cx="183.65" cy="484.65" rx="5.30" ry="4.10" fill="#000"/>
<ellipse cx="197.71" cy="473.36" rx="5.30" ry="4.10" fill="#000"/>
<ellipse cx="211.77" cy="461.73" rx="5.30" ry="4.10" fill="#000"/>
<ellipse cx="225.82" cy="449.04" rx="5.30" ry="4.10" fill="#000"/>
<ellipse cx="239.88" cy="438.34" rx="5.30" ry="4.10" fill="#000"/>
<ellipse cx="253.94" cy="426.98" rx="5.30" ry="4.10" fill="#000"/>
<ellipse cx="268.00" cy="417.29" rx="5.30" ry="4.10" fill="#000"/>
<ellipse cx="282.06" cy="406.00" rx="5.30" ry="4.10" fill="#000"/>
<ellipse cx="296.11" cy="396.04" rx="5.30" ry="4.10" fill="#000"/>
<ellipse cx="310.17" cy="386.29" rx="5.30" ry="4.10" fill="#000"/>
<polyline points="57.13,610.75 71.19,592.71 85.24,578.01 99.30,563.97 113.36,551.95 127.42,539.92 141.48,527.89 155.53,515.86 169.59,505.84 183.65,493.27 197.71,482.52 211.77,472.56 225.82,461.73 239.88,450.37 253.94,440.42 268.00,431.53 282.06,420.84 296.11,411.41 310.17,403.33" fill="none" stroke="#000" stroke-width="1.25"/>
<polygon points="57.13,605.95 63.13,610.75 57.13,615.55 51.13,610.75" fill="#000"/>
<polygon points="71.19,587.91 77.19,592.71 71.19,597.51 65.19,592.71" fill="#000"/>
<polygon points="85.24,573.21 91.24,578.01 85.24,582.81 79.24,578.01" fill="#000"/>
<polygon points="99.30,559.17 105.30,563.97 99.30,568.77 93.30,563.97" fill="#000"/>
<polygon points="113.36,547.15 119.36,551.95 113.36,556.75 107.36,551.95" fill="#000"/>
<polygon points="127.42,535.12 133.42,539.92 127.42,544.72 121.42,539.92" fill="#000"/>
<polygon points="141.48,523.09 147.48,527.89 141.48,532.69 135.48,527.89" fill="#000"/>
<polygon points="155.53,511.06 161.53,515.86 155.53,520.66 149.53,515.86" fill="#000"/>
<polygon points="169.59,501.04 175.59,505.84 169.59,510.64 163.59,505.84" fill="#000"/>
<polygon points="183.65,488.47 189.65,493.27 183.65,498.07 177.65,493.27" fill="#000"/>
<polygon points="197.71,477.72 203.71,482.52 197.71,487.32 191.71,482.52" fill="#000"/>
<polygon points="211.77,467.76 217.77,472.56 211.77,477.36 205.77,472.56" fill="#000"/>
<polygon points="225.82,456.93 231.82,461.73 225.82,466.53 219.82,461.73" fill="#000"/>
<polygon points="239.88,445.57 245.88,450.37 239.88,455.17 233.88,450.37" fill="#000"/>
<polygon points="253.94,435.62 259.94,440.42 253.94,445.22 247.94,440.42" fill="#000"/>
<polygon points="268.00,426.73 274.00,431.53 268.00,436.33 262.00,431.53" fill="#000"/>
<polygon points="282.06,416.04 288.06,420.84 282.06,425.64 276.06,420.84" fill="#000"/>
<polygon points="296.11,406.61 302.11,411.41 296.11,416.21 290.11,411.41" fill="#000"/>
<polygon points="310.17,398.53 316.17,403.33 310.17,408.13 304.17,403.33" fill="#000"/>
<line x1="160" y1="561.5" x2="181.6" y2="561.5" stroke="#000" stroke-width="1.3"/>
<polygon points="172.2,555.2 178,564.5 166.3,564.5" fill="#000"/>
<text x="185" y="565.5" font-size="10.9" font-weight="bold" fill="#000" text-anchor="start" font-family="Liberation Sans, sans-serif"  stroke="#000" stroke-width="0.3">Ctrl (P+M)</text>
<line x1="160" y1="574.25" x2="181.6" y2="574.25" stroke="#000" stroke-width="1.3"/>
<rect x="165.6" y="570.15" width="10.8" height="8.4" fill="#fff" stroke="#000" stroke-width="1.2"/>
<text x="185" y="578.25" font-size="10.9" font-weight="bold" fill="#000" text-anchor="start" font-family="Liberation Sans, sans-serif"  stroke="#000" stroke-width="0.3">Db (P+M)</text>
<line x1="160" y1="587.0" x2="181.6" y2="587.0" stroke="#000" stroke-width="1.3"/>
<ellipse cx="171.1" cy="587.00" rx="6" ry="4.7" fill="#000"/>
<text x="185" y="591.0" font-size="10.9" font-weight="bold" fill="#000" text-anchor="start" font-family="Liberation Sans, sans-serif"  stroke="#000" stroke-width="0.3">Ctrl (P+M +AA)</text>
<line x1="160" y1="599.75" x2="181.6" y2="599.75" stroke="#000" stroke-width="1.3"/>
<polygon points="170.8,593.75 177.6,599.75 170.8,605.75 164,599.75" fill="#000"/>
<text x="185" y="603.75" font-size="10.9" font-weight="bold" fill="#000" text-anchor="start" font-family="Liberation Sans, sans-serif"  stroke="#000" stroke-width="0.3">Db (P+M +AA)</text>
<text x="330.6" y="356.6" font-size="18.5" font-weight="normal" fill="#000" text-anchor="start" font-family="Liberation Sans, sans-serif" stroke="#000" stroke-width="0.7">H</text>
<line x1="405.6" y1="373.1" x2="405.6" y2="399.6" stroke="#000" stroke-width="1.3"/><line x1="403.0" y1="373.1" x2="408.20000000000005" y2="373.1" stroke="#000" stroke-width="1.3"/>
<line x1="436.3" y1="418.7" x2="436.3" y2="428.8" stroke="#000" stroke-width="1.3"/><line x1="433.7" y1="418.7" x2="438.90000000000003" y2="418.7" stroke="#000" stroke-width="1.3"/>
<line x1="473.2" y1="399.1" x2="473.2" y2="410.2" stroke="#000" stroke-width="1.3"/><line x1="470.59999999999997" y1="399.1" x2="475.8" y2="399.1" stroke="#000" stroke-width="1.3"/>
<line x1="503.9" y1="424.4" x2="503.9" y2="430.8" stroke="#000" stroke-width="1.3"/><line x1="501.29999999999995" y1="424.4" x2="506.5" y2="424.4" stroke="#000" stroke-width="1.3"/>
<rect x="390.6" y="400.2" width="30.2" height="164" fill="#fff" stroke="#000" stroke-width="1.2"/>
<rect x="420.8" y="428.8" width="31.2" height="135.4" fill="#000"/>
<rect x="458" y="410.8" width="30" height="153.4" fill="#fff" stroke="#000" stroke-width="1.2"/>
<rect x="488" y="430.8" width="32" height="133.4" fill="#000"/>
<line x1="381.7" y1="384.2" x2="381.7" y2="564.3" stroke="#000" stroke-width="1.2"/>
<line x1="381.09999999999997" y1="564.3" x2="520" y2="564.3" stroke="#000" stroke-width="1.4"/>
<line x1="379.9" y1="564.30" x2="381.7" y2="564.30" stroke="#000" stroke-width="1"/>
<text x="374" y="569.8" font-size="10.5" font-weight="bold" fill="#000" text-anchor="end" font-family="Liberation Sans, sans-serif"  stroke="#000" stroke-width="0.3">0</text>
<line x1="379.9" y1="519.30" x2="381.7" y2="519.30" stroke="#000" stroke-width="1"/>
<text x="374" y="524.8" font-size="10.5" font-weight="bold" fill="#000" text-anchor="end" font-family="Liberation Sans, sans-serif"  stroke="#000" stroke-width="0.3">100</text>
<line x1="379.9" y1="474.30" x2="381.7" y2="474.30" stroke="#000" stroke-width="1"/>
<text x="374" y="479.79999999999995" font-size="10.5" font-weight="bold" fill="#000" text-anchor="end" font-family="Liberation Sans, sans-serif"  stroke="#000" stroke-width="0.3">200</text>
<line x1="379.9" y1="429.30" x2="381.7" y2="429.30" stroke="#000" stroke-width="1"/>
<text x="374" y="434.79999999999995" font-size="10.5" font-weight="bold" fill="#000" text-anchor="end" font-family="Liberation Sans, sans-serif"  stroke="#000" stroke-width="0.3">300</text>
<line x1="379.9" y1="384.30" x2="381.7" y2="384.30" stroke="#000" stroke-width="1"/>
<text x="374" y="389.7999999999999" font-size="10.5" font-weight="bold" fill="#000" text-anchor="end" font-family="Liberation Sans, sans-serif"  stroke="#000" stroke-width="0.3">400</text>
<text x="419.5" y="584.8" font-size="10.7" font-weight="bold" fill="#000" text-anchor="middle" font-family="Liberation Sans, sans-serif"  stroke="#000" stroke-width="0.3">Ctrl</text>
<text x="489.8" y="584.8" font-size="10.7" font-weight="bold" fill="#000" text-anchor="middle" font-family="Liberation Sans, sans-serif"  stroke="#000" stroke-width="0.3">Db</text>
<text x="405" y="372.5" font-size="17" font-weight="bold" fill="#000" text-anchor="middle" font-family="Liberation Sans, sans-serif"  stroke="#000" stroke-width="0.3">**</text>
<rect x="425" y="361.2" width="8.5" height="8.2" fill="#fff" stroke="#000" stroke-width="1"/>
<text x="439.6" y="369.6" font-size="10.9" font-weight="bold" fill="#000" text-anchor="start" font-family="Liberation Sans, sans-serif"  stroke="#000" stroke-width="0.3">P + M + AA</text>
<rect x="424.7" y="379.7" width="9.1" height="8.2" fill="#262626"/>
<text x="439.6" y="387.9" font-size="10.9" font-weight="bold" fill="#000" text-anchor="start" font-family="Liberation Sans, sans-serif"  stroke="#000" stroke-width="0.3">P + M</text>
<text x="0" y="0" font-size="11.3" font-weight="bold" fill="#000" text-anchor="middle" font-family="Liberation Sans, sans-serif" transform="translate(351.8,475) rotate(-90)" stroke="#000" stroke-width="0.3">Fluorescence intensity (arb. Units)</text>
</svg></body></html>
